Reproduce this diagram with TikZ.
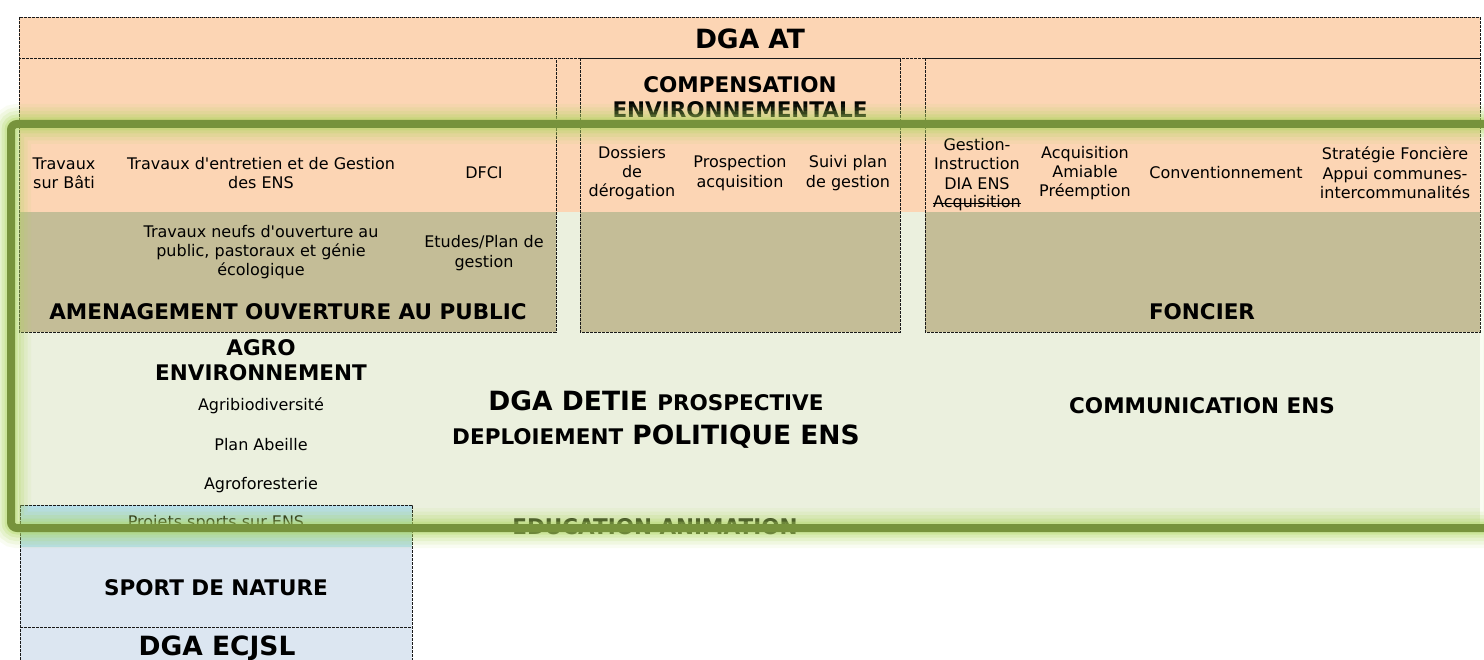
\documentclass[tikz,border=0pt]{standalone}
\usepackage{fontspec}
\setmainfont{DejaVu Sans}
\definecolor{peach}{RGB}{252,213,180}
\definecolor{paleolive}{RGB}{235,240,222}
\definecolor{khaki}{RGB}{196,189,151}
\definecolor{skyband}{RGB}{183,222,232}
\definecolor{paleblue}{RGB}{220,230,241}
\definecolor{framegreen}{RGB}{119,147,60}
\definecolor{glowgreen}{RGB}{175,215,95}

\begin{document}
\begin{tikzpicture}[x=1pt,y=-1pt,
  cell/.style={draw=black!90, dash pattern=on 3pt off 1pt, line width=0.9pt},
  txt/.style={align=center, inner sep=0pt, font=\fontsize{16}{19.4}\selectfont},
  head/.style={align=center, inner sep=0pt, font=\fontsize{21.5}{24.5}\selectfont\bfseries},
  big/.style={align=center, inner sep=0pt, font=\fontsize{26.5}{30}\selectfont\bfseries}]
  \useasboundingbox (0,0) rectangle (1484,660);

  \fill[peach] (19,17) rectangle (1480,212);
  \fill[paleolive] (19,212) rectangle (1480,528);
  \fill[khaki] (19,212) rectangle (556,332);
  \fill[khaki] (580,212) rectangle (900,332);
  \fill[khaki] (925,212) rectangle (1480,332);
  \fill[skyband] (20,505) rectangle (412,547);
  \fill[paleblue] (20,547) rectangle (412,664);

  \draw[cell] (19,17) rectangle (1480,58);
  \draw[cell] (19,58) rectangle (556,332);
  \draw[cell] (580,58) rectangle (900,332);
  \draw[cell] (925,58) rectangle (1480,332);
  \draw[cell] (20,664) -- (20,505) -- (412,505) -- (412,664);
  \draw[cell] (20,627) -- (412,627);

  \node[big] (dgaat) at (750,39) {DGA AT};
  \node[head] (compens) at (740,97) {COMPENSATION\\ENVIRONNEMENTALE};

  \node[txt] (bati) at (64,173) {Travaux\\sur Bâti};
  \node[txt] (entretien) at (261,173) {Travaux d\textquotesingle entretien et de Gestion\\des ENS};
  \node[txt] (dfci) at (484,173) {DFCI};
  \node[txt] (neufs) at (261,252) {Travaux neufs d\textquotesingle ouverture au\\public, pastoraux et génie\\écologique};
  \node[txt] (etudes) at (484,253) {Etudes/Plan de\\gestion};
  \node[head] (amenag) at (288,312) {AMENAGEMENT OUVERTURE AU PUBLIC};

  \node[txt] (derog) at (632,173) {Dossiers\\de\\dérogation};
  \node[txt] (prosp) at (740,173) {Prospection\\acquisition};
  \node[txt] (suivi) at (848,173) {Suivi plan\\de gestion};

  \node[txt] (dia) at (977,164) {Gestion-\\Instruction\\DIA ENS};
  \node[txt] (acqold) at (977,203) {Acquisition};
  \draw[line width=0.9pt] (acqold.west) -- (acqold.east);
  \node[txt] (amiable) at (1085,173) {Acquisition\\Amiable\\Préemption};
  \node[txt] (conv) at (1226,173) {Conventionnement};
  \node[txt] (strat) at (1395,173) {Stratégie Foncière\\Appui communes-\\intercommunalités};
  \node[head] (foncier) at (1202,312) {FONCIER};

  \node[head] (agro) at (261,360) {AGRO\\ENVIRONNEMENT};
  \node[txt] (agribio) at (261,406) {Agribiodiversité};
  \node[txt] (abeille) at (261,445) {Plan Abeille};
  \node[txt] (agrofor) at (261,485) {Agroforesterie};
  \node[txt] (sports) at (216,523) {Projets sports sur ENS};

  \node[big, font=\fontsize{26.5}{34}\selectfont\bfseries] (detie) at (656,420)
    {DGA DETIE {\fontsize{21.5}{34}\selectfont PROSPECTIVE}\\{\fontsize{21.5}{34}\selectfont DEPLOIEMENT} POLITIQUE ENS};
  \node[head] (commu) at (1202,406) {COMMUNICATION ENS};
  \node[head] (educ) at (655,527) {EDUCATION ANIMATION};

  \node[head] (sport) at (216,588) {SPORT DE NATURE};
  \node[big] (ecjsl) at (217,648) {DGA ECJSL};

  \foreach \w/\o in {40/0.08, 33/0.12, 26/0.16, 19/0.22, 13/0.3}
    \draw[glowgreen, line width=\w, opacity=\o, rounded corners=6] (11,124) rectangle (1500,528);
  \draw[framegreen, line width=8, rounded corners=6] (11,124) rectangle (1500,528);
\end{tikzpicture}
\end{document}
